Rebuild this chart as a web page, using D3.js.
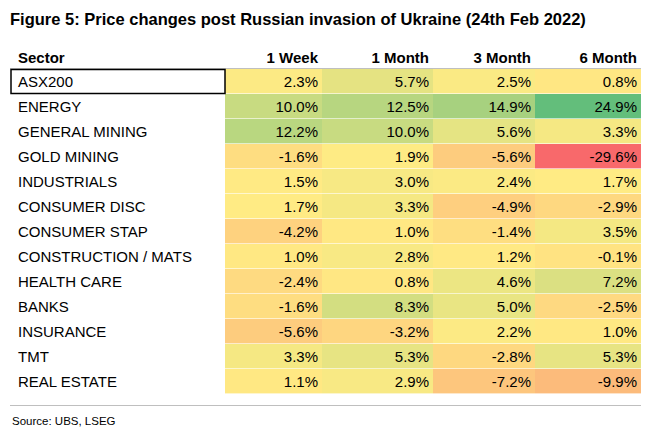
<!DOCTYPE html>
<html><head><meta charset="utf-8">
<script src="https://cdn.jsdelivr.net/npm/d3@7"></script>
<style>body{margin:0;background:#fff}</style>
</head><body>
<svg id="chart" width="651" height="440"></svg>
<script>
const sectors = ["ASX200","ENERGY","GENERAL MINING","GOLD MINING","INDUSTRIALS","CONSUMER DISC","CONSUMER STAP","CONSTRUCTION / MATS","HEALTH CARE","BANKS","INSURANCE","TMT","REAL ESTATE"];
const periods = ["1 Week","1 Month","3 Month","6 Month"];
const week1 = [2.3,10.0,12.2,-1.6,1.5,1.7,-4.2,1.0,-2.4,-1.6,-5.6,3.3,1.1];
const month1 = [5.7,12.5,10.0,1.9,3.0,3.3,1.0,2.8,0.8,8.3,-3.2,5.3,2.9];
const month3 = [2.5,14.9,5.6,-5.6,2.4,-4.9,-1.4,1.2,4.6,5.0,2.2,-2.8,-7.2];
const month6 = [0.8,24.9,3.3,-29.6,1.7,-2.9,3.5,-0.1,7.2,-2.5,1.0,5.3,-9.9];
const series = [week1, month1, month3, month6];

const svg = d3.select("#chart");
const font = "'Liberation Sans', Arial, sans-serif";
const all = series.flat();
const color = d3.scaleLinear()
  .domain([d3.min(all), d3.median(all), d3.max(all)])
  .range(["#F8696B","#FFEB84","#63BE7B"]);

const colEdges = [10, 225, 322, 433, 535, 641];
const y = d3.scaleBand().domain(sectors).range([69, 394]);

svg.append("text").attr("x",10).attr("y",25).attr("font-family",font)
  .attr("font-weight","bold").attr("font-size",16.5)
  .text("Figure 5: Price changes post Russian invasion of Ukraine (24th Feb 2022)");

// header
svg.append("text").attr("x",18).attr("y",63).attr("font-family",font)
  .attr("font-weight","bold").attr("font-size",15).text("Sector");
periods.forEach((p,i)=>{
  svg.append("text").attr("x",colEdges[i+2]-4).attr("y",63).attr("text-anchor","end")
    .attr("font-family",font).attr("font-weight","bold").attr("font-size",15).text(p);
});
svg.append("line").attr("x1",10).attr("x2",641).attr("y1",68.5).attr("y2",68.5)
  .attr("stroke","#bfbfbf");

sectors.forEach((s,r)=>{
  const yy = y(s), h = y.bandwidth();
  series.forEach((vals,c)=>{
    svg.append("rect").attr("x",colEdges[c+1]).attr("y",yy)
      .attr("width",colEdges[c+2]-colEdges[c+1]).attr("height",h)
      .attr("fill",color(vals[r]));
    svg.append("text").attr("x",colEdges[c+2]-4).attr("y",yy+h/2+5)
      .attr("text-anchor","end").attr("font-family",font).attr("font-size",15)
      .text(vals[r].toFixed(1)+"%");
  });
  svg.append("text").attr("x",18).attr("y",yy+h/2+5).attr("font-family",font)
    .attr("font-size",15).text(s);
  svg.append("line").attr("x1",10).attr("x2",641).attr("y1",yy+h-0.5).attr("y2",yy+h-0.5)
    .attr("stroke","#ffffff").attr("stroke-opacity",0.6);
});
svg.append("rect").attr("x",11).attr("y",y("ASX200")+0.5).attr("width",214)
  .attr("height",y.bandwidth()-1).attr("fill","none").attr("stroke","#000").attr("stroke-width",1.5);

svg.append("line").attr("x1",10).attr("x2",641).attr("y1",405.5).attr("y2",405.5)
  .attr("stroke","#bfbfbf");
svg.append("text").attr("x",12).attr("y",425).attr("font-family",font)
  .attr("font-size",11.5).text("Source: UBS, LSEG");
</script>
</body></html>
